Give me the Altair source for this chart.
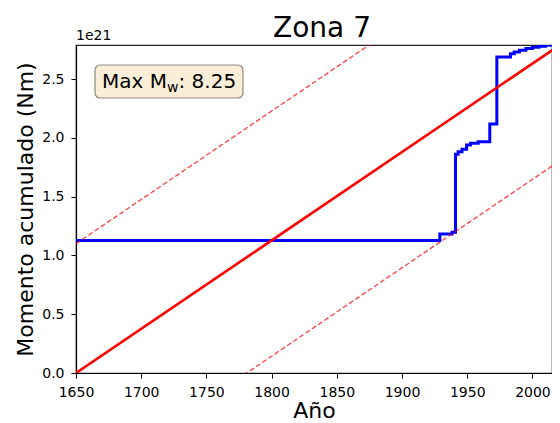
import altair as alt
import pandas as pd

# ---- data (moment in units of 1e21 N·m) ----
step_years = [1650, 1929, 1938.4, 1941, 1943, 1946, 1949.5, 1952.5, 1958.4, 1967.3,
              1972.7, 1983.2, 1986, 1990, 1995, 2000, 2005, 2010, 2021]
step_moment = [1.126, 1.183, 1.197, 1.861, 1.883, 1.904, 1.94, 1.955, 1.968, 2.119,
               2.687, 2.715, 2.73, 2.745, 2.76, 2.77, 2.78, 2.787, 2.79]
rate_years = [1650, 2021]
rate_moment = [0.0, 2.79]
upper_moment = [1.10, 3.89]
lower_moment = [-0.985, 1.805]
x_ticks = [1650, 1700, 1750, 1800, 1850, 1900, 1950, 2000]
y_ticks = [0.0, 0.5, 1.0, 1.5, 2.0, 2.5]
title_text = "Zona 7"
box_main = "Max M"
box_sub = "w"
box_tail = ": 8.25"
offset_label = "1e21"

FONT = "DejaVu Sans"

steps_df = pd.DataFrame({"year": step_years, "m": step_moment})
rate_df = pd.DataFrame({"year": rate_years, "m": rate_moment})
upper_df = pd.DataFrame({"year": rate_years, "m": upper_moment})
lower_df = pd.DataFrame({"year": rate_years, "m": lower_moment})
one = pd.DataFrame({"k": [0]})

# visible window (the reference figure is cropped on the right)
xs = alt.Scale(domain=[1650, 2015], nice=False, zero=False)
ys = alt.Scale(domain=[0, 2.79], nice=False, zero=False)

X = alt.X("year:Q", scale=xs, title="Año",
          axis=alt.Axis(values=x_ticks, format="d", labelPadding=7, titlePadding=1,
                        labelFlush=False))
Y = alt.Y("m:Q", scale=ys, title="Momento acumulado (Nm)",
          axis=alt.Axis(values=y_ticks, format=".1f", labelPadding=7, titlePadding=4,
                        labelFlush=False))

blue = alt.Chart(steps_df).mark_line(color="#0000ff", strokeWidth=3, clip=True,
                                     interpolate="step-after").encode(x=X, y=Y)
red = alt.Chart(rate_df).mark_line(color="#ff0000", strokeWidth=2.6, clip=True).encode(x=X, y=Y)
upper = alt.Chart(upper_df).mark_line(color="#ff0000", strokeWidth=1.3, opacity=0.75,
                                      strokeDash=[5, 2.5], clip=True).encode(x=X, y=Y)
lower = alt.Chart(lower_df).mark_line(color="#ff0000", strokeWidth=1.3, opacity=0.75,
                                      strokeDash=[5, 2.5], clip=True).encode(x=X, y=Y)

box = alt.Chart(one).mark_rect(fill="#f5deb3", fillOpacity=0.5, stroke="#000000",
                               strokeOpacity=0.45, strokeWidth=1.2, cornerRadius=5).encode(
    x=alt.value(19), x2=alt.value(167), y=alt.value(20), y2=alt.value(53))
t1 = alt.Chart(one).mark_text(text=box_main, font=FONT, fontSize=20, align="left",
                              baseline="alphabetic", color="black").encode(
    x=alt.value(26), y=alt.value(43))
t2 = alt.Chart(one).mark_text(text=box_sub, font=FONT, fontSize=14, align="left",
                              baseline="alphabetic", color="black").encode(
    x=alt.value(91), y=alt.value(47))
t3 = alt.Chart(one).mark_text(text=box_tail, font=FONT, fontSize=20, align="left",
                              baseline="alphabetic", color="black").encode(
    x=alt.value(102.5), y=alt.value(43))
off = alt.Chart(one).mark_text(text=offset_label, font=FONT, fontSize=14, align="left",
                               baseline="alphabetic", color="black").encode(
    x=alt.value(0), y=alt.value(-5))
ttl = alt.Chart(one).mark_text(text=title_text, font=FONT, fontSize=28, align="center",
                               baseline="alphabetic", color="black").encode(
    x=alt.value(246), y=alt.value(-8))

chart = alt.layer(blue, red, upper, lower, box, t1, t2, t3, off, ttl).properties(
    width=476, height=328,
    autosize=alt.AutoSizeParams(type="none"),
    padding={"left": 68, "top": 37, "right": 0, "bottom": 50},
).configure_axis(
    grid=False, domainColor="black", tickColor="black", labelColor="black",
    titleColor="black", labelFont=FONT, titleFont=FONT, labelFontSize=14,
    titleFontSize=22, titleFontWeight="normal", tickSize=5, domainWidth=1.2,
).configure_view(stroke="#222222", strokeWidth=1.2)

chart.save("out.html", embed_options={"renderer": "svg", "actions": False})
